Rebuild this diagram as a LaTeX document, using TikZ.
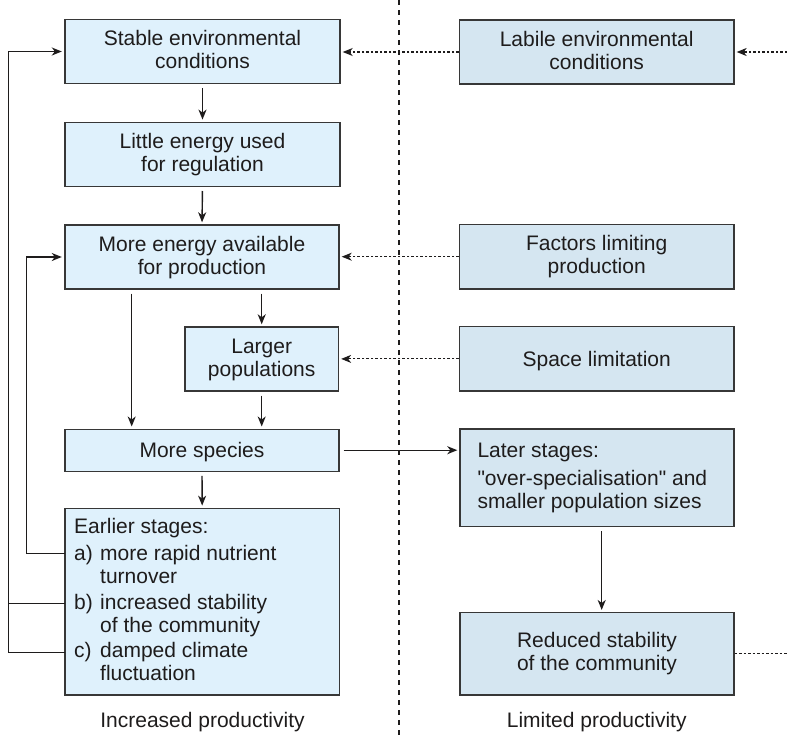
\documentclass[tikz,border=0pt]{standalone}
\usepackage{fontspec}
\setmainfont{Liberation Sans}[Ligatures=TeXOff]
\usetikzlibrary{arrows.meta}
\definecolor{lfill}{RGB}{223,241,252}
\definecolor{rfill}{RGB}{213,230,241}
\definecolor{ink}{RGB}{30,28,28}
\definecolor{edge}{RGB}{55,55,55}
\newcommand\twol[2]{\rule{0pt}{16pt}#1\\#2\rule[-5pt]{0pt}{5pt}}
\newcommand\onel[1]{\rule[-5pt]{0pt}{25pt}#1}
\begin{document}
\begin{tikzpicture}[x=1pt,y=-1pt,
  txt/.style={text=ink, inner sep=0pt, font=\fontsize{21}{23}\selectfont},
  box/.style={txt, draw=edge, line width=1.4pt, align=center},
  lbox/.style={box, fill=lfill},
  rbox/.style={box, fill=rfill},
  tip/.style={-{Stealth[length=10pt,width=8pt,inset=3pt]}},
  arr/.style={draw=ink, line width=1.4pt, tip, shorten <=4pt, shorten >=2pt},
  fb/.style={draw=ink, line width=1.4pt},
  dotarr/.style={draw=ink, line width=1.1pt, dash pattern=on 2.5pt off 2pt, tip, shorten >=2pt},
  dotline/.style={draw=ink, line width=1.1pt, dash pattern=on 2.5pt off 2pt},
  divider/.style={draw=ink, line width=2.8pt, dash pattern=on 5pt off 5pt}
]
\useasboundingbox (0,0) rectangle (787,736);

% left column
\node[lbox, minimum width=275pt, minimum height=64pt] (stable) at (202.5,51.5) {\twol{Stable environmental}{conditions}};
\node[lbox, minimum width=275pt, minimum height=64pt] (little) at (202.5,154.3) {\twol{Little energy used}{for regulation}};
\node[lbox, minimum width=274pt, minimum height=64pt] (more) at (202,257) {\twol{More energy available}{for production}};
\node[lbox, minimum width=153.5pt, minimum height=64pt] (larger) at (261.7,359) {\twol{Larger}{populations}};
\node[lbox, minimum width=274pt, minimum height=42pt] (species) at (202,450.2) {\onel{More species}};
\node[lbox, minimum width=274.3pt, minimum height=186.7pt] (earlier) at (202.2,601.7) {};
\node[txt, align=left, anchor=base west] (earliertxt) at (74,680) {Earlier stages:\\[3.7pt]
\makebox[26pt][l]{a)}more rapid nutrient\\
\hspace*{26pt}turnover\\[2.6pt]
\makebox[26pt][l]{b)}increased stability\\
\hspace*{26pt}of the community\\[2pt]
\makebox[26pt][l]{c)}damped climate\\
\hspace*{26pt}fluctuation};

% right column
\node[rbox, minimum width=274.5pt, minimum height=64pt] (labile) at (596.7,52) {\twol{Labile environmental}{conditions}};
\node[rbox, minimum width=274.5pt, minimum height=64.5pt] (factors) at (596.7,256.7) {\twol{Factors limiting}{production}};
\node[rbox, minimum width=274.5pt, minimum height=64.3pt] (space) at (596.7,358.9) {\onel{Space limitation}};
\node[rbox, minimum width=274pt, minimum height=97.7pt] (later) at (597,477.8) {};
\node[txt, align=left, anchor=base west] (latertxt) at (477.3,508.3) {Later stages:\\[4.7pt]
"over-specialisation" and\\
smaller population sizes};
\node[rbox, minimum width=274pt, minimum height=82.3pt] (reduced) at (597,653.8) {\twol{Reduced stability}{of the community}};

% column labels
\node[txt] (inc) at (202.5,721.7) {Increased productivity};
\node[txt] (lim) at (596.7,721.7) {Limited productivity};

% divider
\coordinate (dtop) at (399,0);
\coordinate (dbot) at (399,736);
\draw[divider] (dtop) -- (dbot);

% solid arrows
\draw[arr] (stable.south) -- (little.north);
\draw[arr] (little.south) -- (more.north);
\draw[arr] ([xshift=-70.3pt]more.south) -- ([xshift=-70.3pt]species.north);
\draw[arr] (more.south -| larger) -- (larger.north);
\draw[arr] (larger.south) -- (species.north -| larger);
\draw[arr] (species.south) -- (earlier.north);
\draw[arr] (species.east) -- (species.east -| later.west);
\draw[arr] ([xshift=4.7pt]later.south) -- ([xshift=4.7pt]reduced.north);

% feedback lines
\coordinate (fa) at (65,553.3);
\coordinate (fbb) at (65,603.3);
\coordinate (fc) at (65,652.7);
\draw[fb, tip, shorten >=2.5pt] (fa) -- ++(-38.3,0) |- (more.west);
\draw[fb, tip, shorten >=2.5pt] (fc) -- ++(-56.7,0) |- (stable.west);
\draw[fb] (fbb) -- ++(-56.7,0);

% dotted influences
\coordinate (rin) at (787,52);
\coordinate (rout) at (787,653.8);
\draw[dotarr] (labile.west) -- (labile.west -| stable.east);
\draw[dotarr] (rin) -- (labile.east);
\draw[dotarr] (factors.west) -- (factors.west -| more.east);
\draw[dotarr] (space.west) -- (space.west -| larger.east);
\draw[dotline] (reduced.east) -- (rout);
\end{tikzpicture}
\end{document}
